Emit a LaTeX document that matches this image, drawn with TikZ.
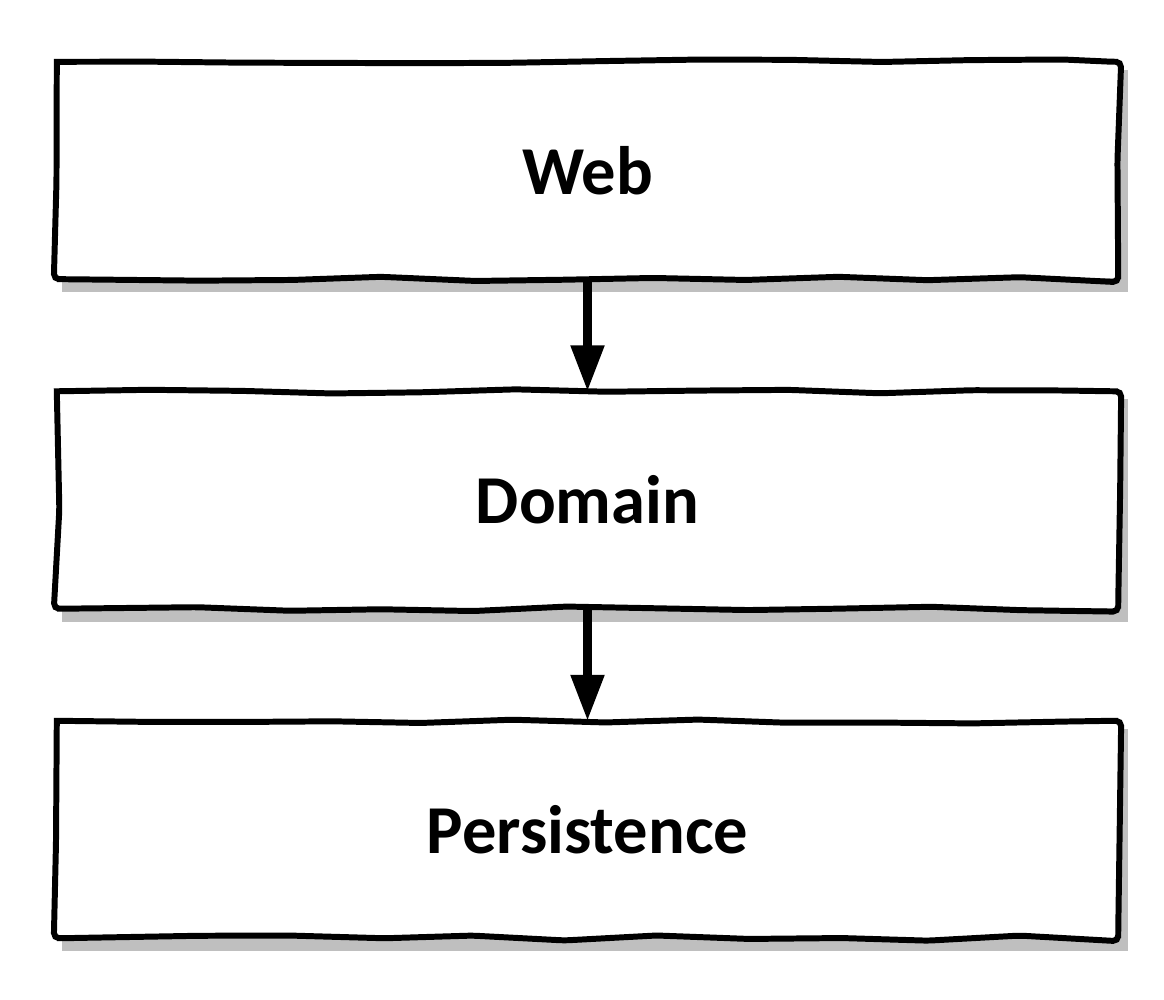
\documentclass[tikz,border=0pt]{standalone}
\usepackage{fontspec}
\setmainfont{Carlito}
\usepackage{tikz}
\usetikzlibrary{decorations.pathmorphing,arrows.meta,backgrounds}

\tikzset{
  layer/.style={fill=white,
    minimum width=10.6cm, minimum height=2.16cm, inner sep=0pt,
    font=\bfseries\fontsize{19.5}{23}\selectfont},
  wavy/.style={draw=black, line width=1.7pt, line cap=rect, line join=miter,
    decorate, decoration={random steps, segment length=26pt, amplitude=0.8pt},
    rounded corners=1.5pt},
  calls/.style={line width=2.4pt, -{Triangle[length=4.6mm, width=3.2mm]}},
  layershadow/.style={fill=gray!50}
}

\begin{document}
\begin{tikzpicture}
\pgfmathsetseed{11}
\useasboundingbox (0,0) rectangle (11.64,-10);

\node (web) at (5.875,-1.705) [layer] {Web};

\node (domain) at (5.875,-5.0) [layer] {Domain};

\node (persist) at (5.875,-8.295) [layer] {Persistence};

% grey shadows behind the boxes
\begin{scope}[on background layer]
\foreach \n in {web, domain, persist}
  \fill [layershadow] ([shift={(0.05,-0.13)}]\n.south west) rectangle ([shift={(0.10,-0.08)}]\n.north east);
\end{scope}

% hand drawn outlines
\foreach \n in {web, domain, persist}
  \draw [wavy] (\n.north west) -- (\n.north east) -- (\n.south east) -- (\n.south west) -- (\n.north west);

\draw [calls] (web.south) -- (domain.north);

\draw [calls] (domain.south) -- (persist.north);

\end{tikzpicture}
\end{document}
